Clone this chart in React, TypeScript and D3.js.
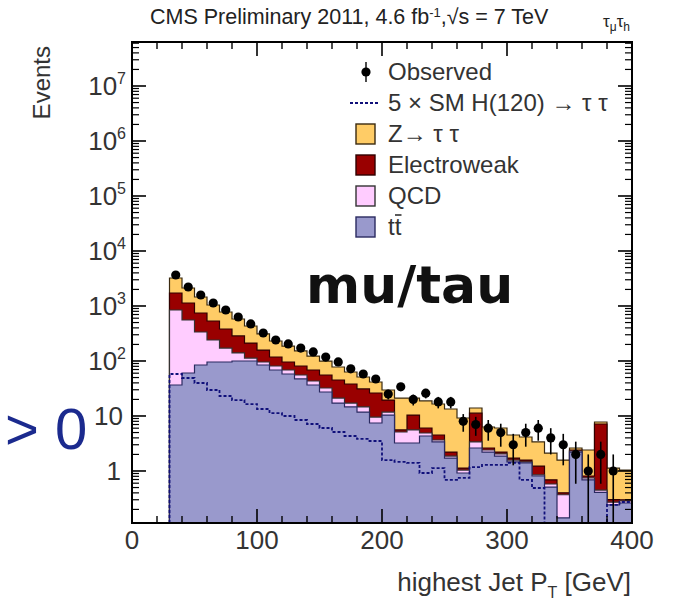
import React from "react";
import * as d3 from "d3";

// ---- data ----
const binLow = [30, 40, 50, 60, 70, 80, 90, 100, 110, 120, 130, 140, 150, 160, 170, 180, 190, 200, 210, 220, 230, 240, 250, 260, 270, 280, 290, 300, 310, 320, 330, 340, 350, 360, 370, 380, 390];
const BIN_WIDTH = 10;

const observed = [3660, 2216, 1585, 1134, 846, 631, 471, 323, 241, 204, 172, 146, 118, 96, 72, 58, 47, 25, 34, 20, 26, 18, 18, 8, 7, 6, 5, 3, 5, 6, 4, 3, 2, 1, 2, 1, 0];
const zTauTau = [1506, 991, 712, 509, 396, 295, 221, 152, 113, 91, 71, 54, 44, 32.7, 24.9, 20.2, 15.3, 10.2, 15.6, 10.8, 12.7, 12.0, 11.2, 8.07, 2.7, 3.69, 3.84, 2.79, 2.57, 2.14, 1.43, 1.18, 0.21, 1.6, 0.63, 0.83, 0.74];
const electroweak = [876, 578, 409, 293, 210, 145, 99, 62, 37, 27.3, 25.5, 25.3, 23.3, 23.9, 21.0, 16.4, 16.6, 7.7, 0.45, 4.8, 1.14, 0.85, 0.34, 0.09, 7.9, 0.21, 0.17, 0.14, 0.12, 0.38, 0.11, 0.03, 0.1, 0.06, 6.7, 0.03, 0.015];
const qcd = [809, 496, 252, 145, 76, 40, 13, 11.3, 12.5, 10.6, 8.5, 6.7, 5.0, 4.0, 2.6, 2.8, 2.1, 1.4, 1.89, 2.34, 0.58, 0.29, 0.15, 0.12, 0.75, 0.2, 0.17, 0.12, 0.06, 0.04, 0.07, 0.23, 0.1, 0.06, 0.04, 0.03, 0.023];
const ttbar = [36.6, 60.5, 84.6, 95.9, 95.9, 100, 100, 84.6, 68.6, 58, 47.1, 36.6, 27.3, 17.2, 14.6, 11.8, 7.46, 10.4, 3.23, 3.23, 4.33, 3.37, 1.72, 0.92, 2.62, 2.21, 1.87, 1.46, 1.40, 0.81, 0.51, 0.14, 2.21, 0.69, 0.41, 0.241, 0.262];
const higgs5x = [58, 49.1, 39.8, 29.7, 23.1, 19.5, 16.5, 13.4, 11.3, 10, 8.46, 7.15, 6.05, 5.12, 4.33, 3.82, 3.51, 1.58, 1.46, 1.4, 0.92, 1.13, 0.69, 0.75, 1.18, 1.29, 1.29, 1.4, 0.69, 0.49, 0, 0, 0, 0, 0, 0.241, 0.273];

const xTickLabels = [0, 100, 200, 300, 400];
const yDecades = [0, 1, 2, 3, 4, 5, 6, 7];

const FONT = "'Liberation Sans', Arial, Helvetica, sans-serif";

const layers = [
  { key: "ztt", fill: "#FFCC66", stroke: "#3a2a10" },
  { key: "ewk", fill: "#990000", stroke: "#300000" },
  { key: "qcd", fill: "#FFCCFF", stroke: "#333333" },
  { key: "tt", fill: "#9999CC", stroke: "#2a2a60" },
];

export default function App() {
  const W = 675, H = 605;
  const X0 = 132, X1 = 632, YT = 42, YB = 523;
  const yMin = 0.1133, yMax = 6.31e7;
  const x = d3.scaleLinear().domain([0, 400]).range([X0, X1]);
  const y = d3.scaleLog().domain([yMin, yMax]).range([YB, YT]);
  const yc = (v: number) => y(Math.max(v, yMin));

  const rows = binLow.map((lo, i) => ({ lo, tt: ttbar[i], qcd: qcd[i], ewk: electroweak[i], ztt: zTauTau[i] }));
  const stacked = d3.stack<any>().keys(["tt", "qcd", "ewk", "ztt"])(rows);
  const topsOf: Record<string, number[]> = {};
  stacked.forEach((s) => { topsOf[s.key] = s.map((d) => d[1]); });

  const last = binLow[binLow.length - 1] + BIN_WIDTH;
  const histPts = (tops: number[]): [number, number][] => [
    [binLow[0], yMin],
    ...binLow.map((lo, i) => [lo, tops[i]] as [number, number]),
    [last, tops[tops.length - 1]],
    [last, yMin],
  ];
  const stepLine = d3.line<[number, number]>().x((d) => x(d[0])).y((d) => yc(d[1])).curve(d3.curveStepAfter);

  // ticks
  const minorY: number[] = [];
  for (let e = -1; e <= 7; e++) for (let m = 2; m <= 9; m++) { const v = m * Math.pow(10, e); if (v > yMin && v < yMax) minorY.push(v); }
  const majorY = yDecades.map((e) => Math.pow(10, e));
  const minorX = d3.range(0, 401, 20).filter((v) => v % 100 !== 0);

  const legendY = [72, 103, 134, 165, 196, 227];
  const legendBoxes = [
    { label: "Z\u2192 \u03c4 \u03c4", fill: "#FFCC66", stroke: "#3a2a10" },
    { label: "Electroweak", fill: "#990000", stroke: "#300000" },
    { label: "QCD", fill: "#FFCCFF", stroke: "#333" },
    { label: "tt", fill: "#9999CC", stroke: "#2a2a60" },
  ];

  return (
    <svg width={W} height={H} style={{ position: "absolute", left: 0, top: 0, background: "#fff" }} fontFamily={FONT}>
      <rect x={0} y={0} width={W} height={H} fill="#fff" />
      <defs>
        <clipPath id="plotclip"><rect x={X0} y={YT} width={X1 - X0} height={YB - YT} /></clipPath>
      </defs>

      {/* title */}
      <text x={150} y={24} fontSize={21.5} fill="#222">
        CMS Preliminary 2011, 4.6 fb<tspan dy={-7} fontSize={13}>-1</tspan><tspan dy={7}>,</tspan>{"\u221As = 7 TeV"}
      </text>
      <text x={603} y={27} fontSize={17} fill="#222">
        {"\u03c4"}<tspan dy={4} fontSize={12}>{"\u03bc"}</tspan><tspan dy={-4}>{"\u03c4"}</tspan><tspan dy={4} fontSize={12}>h</tspan>
      </text>

      {/* histograms */}
      <g clipPath="url(#plotclip)">
        {layers.map((L) => (
          <path key={L.key} d={(stepLine(histPts(topsOf[L.key])) || "") + "Z"} fill={L.fill} stroke={L.stroke} strokeWidth={1.2} />
        ))}
        <path d={stepLine(histPts(higgs5x)) || ""} fill="none" stroke="#10107a" strokeWidth={1.8} strokeDasharray="3,2" />
        {binLow.map((lo, i) => {
          const n = observed[i];
          if (n <= 0) return null;
          const cx = x(lo + BIN_WIDTH / 2);
          const err = Math.sqrt(n);
          return (
            <g key={lo}>
              <line x1={cx} x2={cx} y1={yc(n + err)} y2={yc(n - err)} stroke="#000" strokeWidth={1.6} />
              <circle cx={cx} cy={yc(n)} r={4.6} fill="#000" />
            </g>
          );
        })}
      </g>

      {/* frame */}
      <rect x={X0} y={YT} width={X1 - X0} height={YB - YT} fill="none" stroke="#000" strokeWidth={2} />
      {/* y ticks */}
      {majorY.map((v) => (
        <g key={"My" + v}>
          <line x1={X0} x2={X0 + 14} y1={y(v)} y2={y(v)} stroke="#000" strokeWidth={1.6} />
          <line x1={X1} x2={X1 - 14} y1={y(v)} y2={y(v)} stroke="#000" strokeWidth={1.6} />
        </g>
      ))}
      {minorY.map((v) => (
        <g key={"my" + v}>
          <line x1={X0} x2={X0 + 7} y1={y(v)} y2={y(v)} stroke="#000" strokeWidth={1.2} />
          <line x1={X1} x2={X1 - 7} y1={y(v)} y2={y(v)} stroke="#000" strokeWidth={1.2} />
        </g>
      ))}
      {/* x ticks */}
      {xTickLabels.map((v) => (
        <g key={"Mx" + v}>
          <line x1={x(v)} x2={x(v)} y1={YB} y2={YB - 14} stroke="#000" strokeWidth={1.6} />
          <line x1={x(v)} x2={x(v)} y1={YT} y2={YT + 14} stroke="#000" strokeWidth={1.6} />
        </g>
      ))}
      {minorX.map((v) => (
        <g key={"mx" + v}>
          <line x1={x(v)} x2={x(v)} y1={YB} y2={YB - 7} stroke="#000" strokeWidth={1.4} />
          <line x1={x(v)} x2={x(v)} y1={YT} y2={YT + 7} stroke="#000" strokeWidth={1.4} />
        </g>
      ))}

      {/* y tick labels */}
      {yDecades.map((e) => {
        const yy = y(Math.pow(10, e)) + 9;
        if (e === 0) return <text key={e} x={121} y={yy} fontSize={26} textAnchor="end" fill="#333">1</text>;
        if (e === 1) return <text key={e} x={123} y={yy} fontSize={26} textAnchor="end" fill="#333">10</text>;
        return (
          <text key={e} x={126} y={yy} fontSize={26} textAnchor="end" fill="#333">
            10<tspan dy={-11} fontSize={16}>{e}</tspan>
          </text>
        );
      })}
      {/* x tick labels */}
      {xTickLabels.map((v) => (
        <text key={"xl" + v} x={x(v)} y={549} fontSize={26} textAnchor="middle" fill="#333">{v}</text>
      ))}

      {/* axis titles */}
      <text transform="translate(50,46) rotate(-90)" fontSize={24} textAnchor="end" fill="#333">Events</text>
      <text x={631} y={591} fontSize={26} textAnchor="end" fill="#333">
        highest Jet P<tspan dy={7} fontSize={16}>T</tspan><tspan dy={-7}> [GeV]</tspan>
      </text>

      {/* legend */}
      <circle cx={366} cy={legendY[0]} r={4.6} fill="#000" />
      <line x1={366} x2={366} y1={legendY[0] - 10} y2={legendY[0] + 10} stroke="#000" strokeWidth={1.4} />
      <text x={388} y={legendY[0] + 8} fontSize={24} fill="#333">Observed</text>
      <line x1={350} x2={378} y1={legendY[1]} y2={legendY[1]} stroke="#10107a" strokeWidth={1.8} strokeDasharray="3,2" />
      <text x={388} y={legendY[1] + 8} fontSize={24} fill="#333">{"5 \u00d7 SM H(120) \u2192 \u03c4 \u03c4"}</text>
      {legendBoxes.map((b, i) => {
        const ly = legendY[i + 2];
        return (
          <g key={b.label}>
            <rect x={356} y={ly - 10} width={19} height={20} fill={b.fill} stroke={b.stroke} strokeWidth={1.4} />
            <text x={388} y={ly + 8} fontSize={24} fill="#333">{b.label}</text>
          </g>
        );
      })}
      <line x1={395} x2={401.5} y1={legendY[5] - 12} y2={legendY[5] - 12} stroke="#333" strokeWidth={1.6} />

      {/* overlays */}
      <text x={306} y={303} fontSize={52} fontWeight="bold" fontFamily="'DejaVu Sans', sans-serif" fill="#111">mu/tau</text>
      <text x={5} y={449} fontSize={58} fill="#1B2A8E">{"> 0"}</text>
    </svg>
  );
}
